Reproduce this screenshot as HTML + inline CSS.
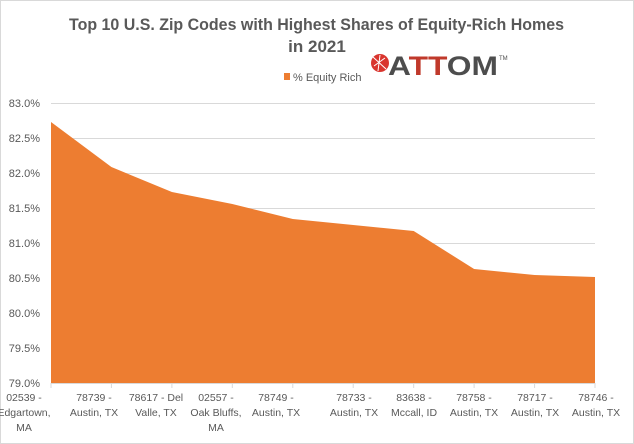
<!DOCTYPE html>
<html><head><meta charset="utf-8"><style>
body{margin:0;background:#fff;}
svg{display:block;font-family:"Liberation Sans",sans-serif;}
</style></head><body>
<svg width="634" height="444" viewBox="0 0 634 444">
<rect x="0.5" y="0.5" width="633" height="443" fill="#fff" stroke="#d9d9d9"/>
<text x="69" y="30" textLength="495" lengthAdjust="spacingAndGlyphs" font-size="17" font-weight="bold" fill="#595959">Top 10 U.S. Zip Codes with Highest Shares of Equity-Rich Homes</text>
<text x="317" y="52" text-anchor="middle" font-size="17" font-weight="bold" fill="#595959">in 2021</text>
<rect x="284" y="73" width="6" height="7" fill="#ed7d31"/>
<text x="293" y="81" font-size="11" fill="#595959">% Equity Rich</text>
<circle cx="380" cy="63" r="9" fill="#d9352e"/>
<path d="M373 57 L386 69 M374 66 L385 58 M380 55 L378 71" stroke="#fff" stroke-width="1" fill="none"/>
<text x="388" y="75" textLength="110" lengthAdjust="spacingAndGlyphs" font-size="27" font-weight="bold" fill="#4d4d4d">A<tspan fill="#c0392b">TT</tspan>OM</text>
<text x="499" y="60" font-size="6" fill="#4d4d4d">TM</text>
<g stroke="#d9d9d9" stroke-width="1">
<line x1="51" y1="103.5" x2="595" y2="103.5"/>
<line x1="51" y1="138.5" x2="595" y2="138.5"/>
<line x1="51" y1="173.5" x2="595" y2="173.5"/>
<line x1="51" y1="208.5" x2="595" y2="208.5"/>
<line x1="51" y1="243.5" x2="595" y2="243.5"/>
<line x1="51" y1="278.5" x2="595" y2="278.5"/>
<line x1="51" y1="313.5" x2="595" y2="313.5"/>
<line x1="51" y1="348.5" x2="595" y2="348.5"/>
<line x1="51" y1="383.5" x2="595" y2="383.5"/>
<line x1="111.4" y1="383" x2="111.4" y2="388"/>
<line x1="171.9" y1="383" x2="171.9" y2="388"/>
<line x1="232.3" y1="383" x2="232.3" y2="388"/>
<line x1="292.8" y1="383" x2="292.8" y2="388"/>
<line x1="353.2" y1="383" x2="353.2" y2="388"/>
<line x1="413.7" y1="383" x2="413.7" y2="388"/>
<line x1="474.1" y1="383" x2="474.1" y2="388"/>
<line x1="534.6" y1="383" x2="534.6" y2="388"/>
<line x1="595" y1="383" x2="595" y2="388"/>
<line x1="51" y1="383" x2="51" y2="388"/>
</g>
<polygon fill="#ed7d31" points="51,383 51,122 111.4,167 171.9,192 232.3,204 292.8,219 353.2,225 413.7,231 474.1,269 534.6,275 595,277 595,383"/>
<g font-size="11" fill="#595959" text-anchor="end">
<text x="40" y="107">83.0%</text><text x="40" y="142">82.5%</text><text x="40" y="177">82.0%</text>
<text x="40" y="212">81.5%</text><text x="40" y="247">81.0%</text><text x="40" y="282">80.5%</text>
<text x="40" y="317">80.0%</text><text x="40" y="352">79.5%</text><text x="40" y="387">79.0%</text>
</g>
<g font-size="10.5" fill="#595959" text-anchor="middle">
<text x="24" y="401">02539 -</text><text x="24" y="416">Edgartown,</text><text x="24" y="431">MA</text>
<text x="94" y="401">78739 -</text><text x="94" y="416">Austin, TX</text>
<text x="156" y="401">78617 - Del</text><text x="156" y="416">Valle, TX</text>
<text x="216" y="401">02557 -</text><text x="216" y="416">Oak Bluffs,</text><text x="216" y="431">MA</text>
<text x="276" y="401">78749 -</text><text x="276" y="416">Austin, TX</text>
<text x="354" y="401">78733 -</text><text x="354" y="416">Austin, TX</text>
<text x="414" y="401">83638 -</text><text x="414" y="416">Mccall, ID</text>
<text x="474" y="401">78758 -</text><text x="474" y="416">Austin, TX</text>
<text x="535" y="401">78717 -</text><text x="535" y="416">Austin, TX</text>
<text x="596" y="401">78746 -</text><text x="596" y="416">Austin, TX</text>
</g>
</svg>
</body></html>
